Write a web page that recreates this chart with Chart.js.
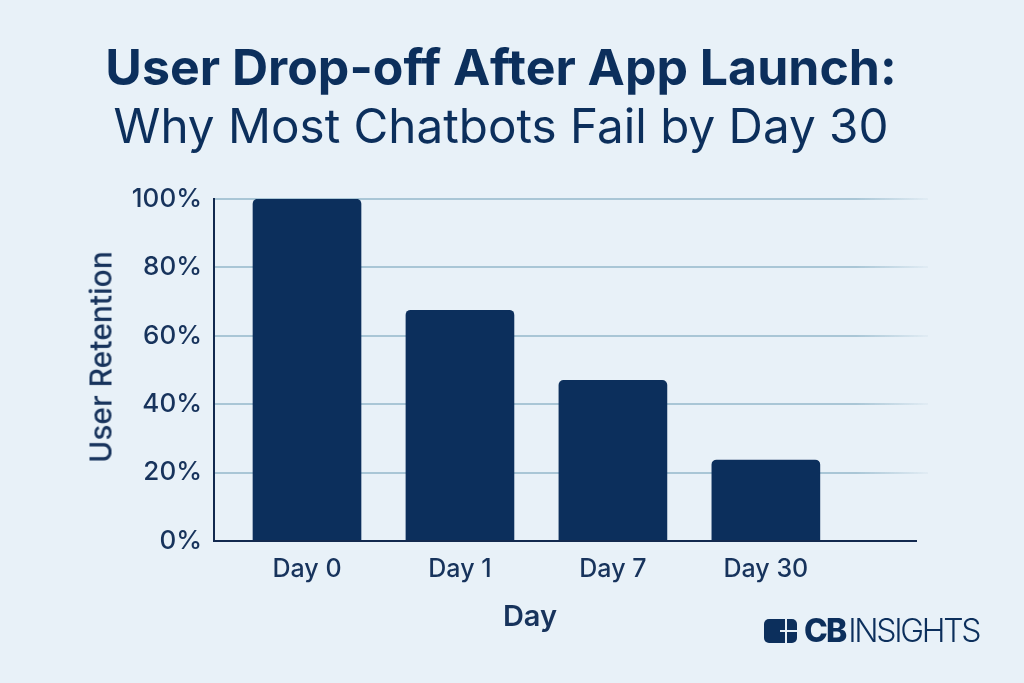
<!DOCTYPE html>
<html>
<head>
<meta charset="utf-8">
<title>User Drop-off After App Launch</title>
<script src="https://cdn.jsdelivr.net/npm/chart.js@4"></script>
<style>
  html, body { margin: 0; padding: 0; background: #e8f1f8; }
  #wrap { position: relative; width: 1024px; height: 683px; overflow: hidden; }
  .axisTitle { position: absolute; color: #17335c; font-family: Inter, sans-serif; line-height: 35px; white-space: nowrap; }
  #xTitle { left: 530px; top: 615px; font-size: 29px; font-weight: 600; transform: translate(-50%, -50%); }
  #yTitle { left: 101px; top: 357px; font-size: 30px; font-weight: 500; transform: translate(-50%, -50%) rotate(-90deg); }
  #logo { position: absolute; left: 764px; top: 616px; height: 30px; color: #0c2f5c; font-family: Inter, sans-serif; white-space: nowrap; }
  #logo .mark { position: absolute; left: 0; top: 3px; width: 33px; height: 24px; background: #0c2f5c; border-radius: 5px; overflow: hidden; }
  #logo .mark i { position: absolute; background: #e8f1f8; }
  #logo .txt { position: absolute; left: 40px; top: 0; font-size: 32px; line-height: 30px; letter-spacing: -1.9px; }
  #logo b { font-weight: 800; }
  #logo span.thin { font-weight: 300; margin-left: 3px; letter-spacing: -2.3px; }
</style>
</head>
<body>
<div id="wrap">
  <canvas id="chart" width="1024" height="683"></canvas>
  <div class="axisTitle" id="xTitle">Day</div>
  <div class="axisTitle" id="yTitle">User Retention</div>
  <div id="logo">
    <div class="mark">
      <i style="left:21px;top:0;width:1.5px;height:24px"></i>
      <i style="left:16px;top:11px;width:17px;height:1.5px"></i>
    </div>
    <div class="txt"><b>CB</b><span class="thin">INSIGHTS</span></div>
  </div>
</div>
<script>
const categories = ["Day 0", "Day 1", "Day 7", "Day 30"];
const retention = [100, 67.5, 47, 23.7];
const yTicks = [0, 20, 40, 60, 80, 100];

const navy = "#0c2f5c";
const textColor = "#17335c";
const gridColor = "#a9c6d6";

// axis line on the bottom stops a little before the grid lines do
const baseLine = {
  id: "baseLine",
  afterDatasetsDraw(chart) {
    const ctx = chart.ctx;
    const y = chart.scales.y.getPixelForValue(0);
    ctx.save();
    ctx.strokeStyle = "#12294f";
    ctx.lineWidth = 2;
    ctx.beginPath();
    ctx.moveTo(chart.chartArea.left - 1, y);
    ctx.lineTo(917, y);
    ctx.stroke();
    ctx.restore();
  }
};

// grid lines fade out at their right end, none at 0%
function gridFade(context) {
  const area = context.chart.chartArea;
  if (!area) return gridColor;
  if (context.tick && context.tick.value === 0) return "transparent";
  const g = context.chart.ctx.createLinearGradient(area.left, 0, area.right, 0);
  g.addColorStop(0, gridColor);
  g.addColorStop(0.9, gridColor);
  g.addColorStop(1, "rgba(169,198,214,0.1)");
  return g;
}

const chart = new Chart(document.getElementById("chart"), {
  type: "bar",
  data: {
    datasets: [{
      data: retention.map((v, i) => ({ x: i, y: v })),
      backgroundColor: navy,
      barThickness: 108,
      borderRadius: { topLeft: 5, topRight: 5, bottomLeft: 0, bottomRight: 0 },
      borderSkipped: "bottom"
    }]
  },
  plugins: [baseLine],
  options: {
    responsive: false,
    animation: false,
    layout: { padding: { left: 74, right: 96, top: 0, bottom: 92 } },
    plugins: {
      legend: { display: false },
      tooltip: { enabled: false },
      title: {
        display: true,
        text: "User Drop-off After App Launch:",
        color: navy,
        font: { family: "Inter", size: 50, weight: "700" },
        padding: { top: 40, bottom: 0 }
      },
      subtitle: {
        display: true,
        text: "Why Most Chatbots Fail by Day 30",
        color: navy,
        font: { family: "Inter", size: 47.6, weight: "400" },
        padding: { top: 0, bottom: 42 }
      }
    },
    scales: {
      x: {
        type: "linear",
        offset: false,
        min: -0.608,
        max: 4.06,
        afterBuildTicks(axis) { axis.ticks = categories.map((c, i) => ({ value: i })); },
        afterFit(axis) { axis.height = 50; },
        grid: { display: false },
        border: { display: false },
        ticks: {
          color: textColor,
          font: { family: "Inter", size: 25, weight: "500" },
          padding: 5,
          autoSkip: false,
          maxRotation: 0,
          callback: v => categories[v]
        }
      },
      y: {
        min: 0,
        max: 100,
        afterBuildTicks(axis) { axis.ticks = yTicks.map(v => ({ value: v })); },
        afterFit(axis) { axis.width = 140; },
        grid: { color: gridFade, lineWidth: 2, drawTicks: false },
        border: { color: "#12294f", width: 2 },
        ticks: {
          color: textColor,
          font: { family: "Inter", size: 26, weight: "500" },
          padding: 12,
          callback: v => v + "%"
        }
      }
    }
  }
});
</script>
</body>
</html>
